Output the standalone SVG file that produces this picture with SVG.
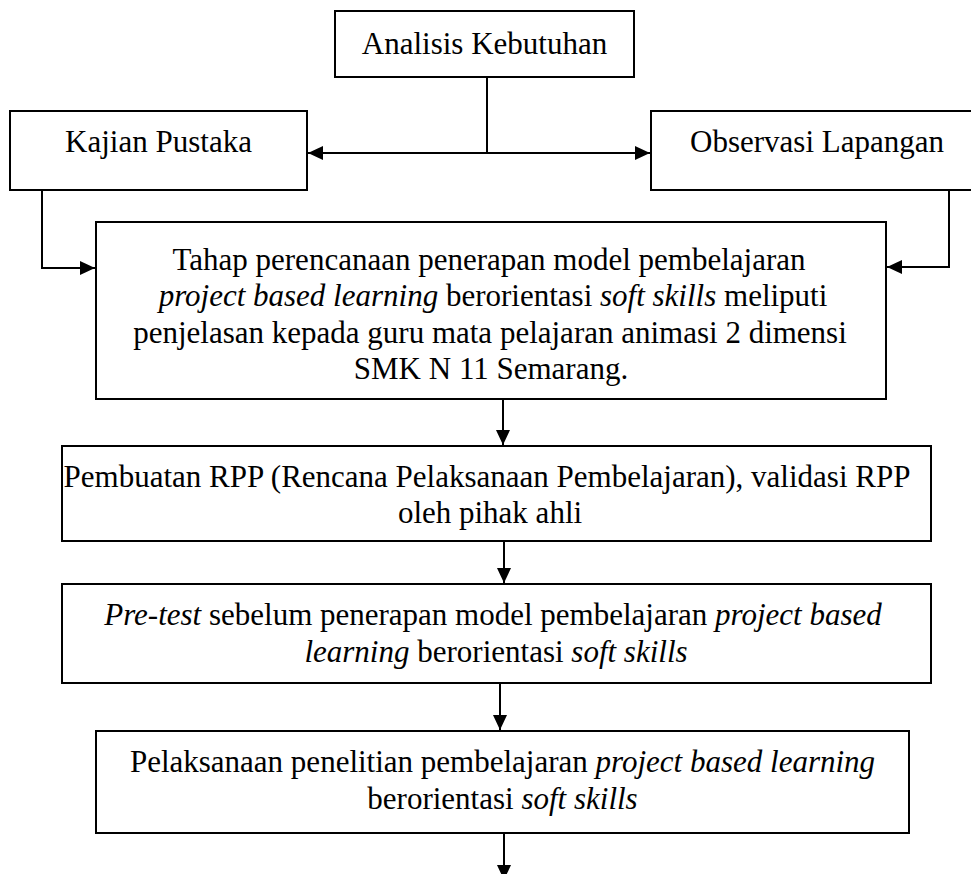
<svg xmlns="http://www.w3.org/2000/svg" width="971" height="874" viewBox="0 0 971 874">
<style>
.box{fill:#fff;stroke:#000;stroke-width:2}
.ln{fill:none;stroke:#000;stroke-width:2}
text{font-family:"Liberation Serif","Times New Roman",serif;font-size:31px;fill:#000;text-anchor:middle}
.i{font-style:italic}
</style>
<defs>
<marker id="ah" viewBox="0 0 15 14" refX="15" refY="7" markerWidth="15" markerHeight="14" markerUnits="userSpaceOnUse" orient="auto-start-reverse">
<path d="M0,0 L15,7 L0,14 Z" fill="#000"/>
</marker>
</defs>
<rect width="971" height="874" fill="#fff"/>
<g id="connectors">
<line class="ln" x1="487" y1="77" x2="487" y2="153"/>
<line class="ln" x1="308" y1="153" x2="650" y2="153" marker-start="url(#ah)" marker-end="url(#ah)"/>
<polyline class="ln" points="42,187 42,268 95,268" marker-end="url(#ah)"/>
<polyline class="ln" points="949,187 949,267 887,267" marker-end="url(#ah)"/>
<line class="ln" x1="503" y1="399" x2="503" y2="445" marker-end="url(#ah)"/>
<line class="ln" x1="504" y1="542" x2="504" y2="583" marker-end="url(#ah)"/>
<line class="ln" x1="500" y1="683" x2="500" y2="730" marker-end="url(#ah)"/>
<line class="ln" x1="504" y1="833" x2="504" y2="880" marker-end="url(#ah)"/>
</g>
<g id="analisis">
<rect class="box" x="335" y="11" width="299" height="66"/>
<text x="484.5" y="54">Analisis Kebutuhan</text>
</g>
<g id="kajian">
<rect class="box" x="10" y="111" width="297" height="79"/>
<text x="158.5" y="152">Kajian Pustaka</text>
</g>
<g id="observasi">
<rect class="box" x="651" y="111" width="332" height="79"/>
<text x="817" y="152">Observasi Lapangan</text>
</g>
<g id="perencanaan">
<rect class="box" x="96" y="222" width="790" height="177"/>
<text x="489" y="270">Tahap perencanaan penerapan model pembelajaran</text>
<text x="493" y="306"><tspan class="i">project based learning</tspan> berorientasi <tspan class="i">soft skills</tspan> meliputi</text>
<text x="490" y="343">penjelasan kepada guru mata pelajaran animasi 2 dimensi</text>
<text x="491" y="379">SMK N 11 Semarang.</text>
</g>
<g id="rpp">
<rect class="box" x="62" y="446" width="869" height="95"/>
<text x="487" y="487">Pembuatan RPP (Rencana Pelaksanaan Pembelajaran), validasi RPP</text>
<text x="490" y="523">oleh pihak ahli</text>
</g>
<g id="pretest">
<rect class="box" x="62" y="584" width="869" height="99"/>
<text x="493" y="625"><tspan class="i">Pre-test</tspan> sebelum penerapan model pembelajaran <tspan class="i">project based</tspan></text>
<text x="496" y="662"><tspan class="i">learning</tspan> berorientasi <tspan class="i">soft skills</tspan></text>
</g>
<g id="pelaksanaan">
<rect class="box" x="96" y="731" width="813" height="102"/>
<text x="502.5" y="772">Pelaksanaan penelitian pembelajaran <tspan class="i">project based learning</tspan></text>
<text x="502.5" y="809">berorientasi <tspan class="i">soft skills</tspan></text>
</g>
</svg>
